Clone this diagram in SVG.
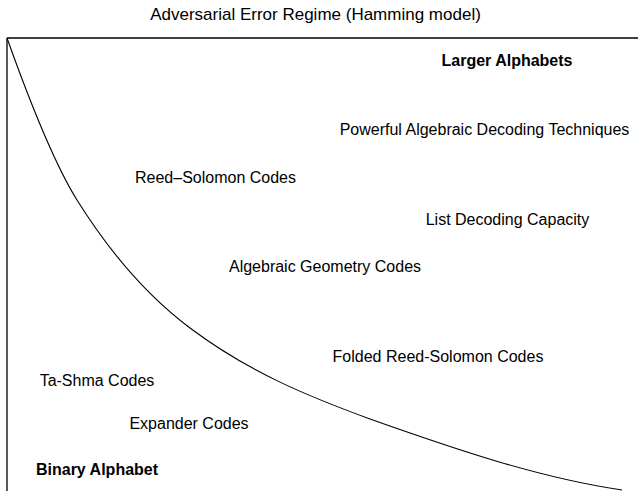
<svg xmlns="http://www.w3.org/2000/svg" width="638" height="491" viewBox="0 0 638 491">
<style>
text{font-family:"Liberation Sans",Arial,sans-serif;font-size:16px;fill:#000;text-anchor:middle}
.b{font-weight:bold}
.t{font-size:17px}
.ax{stroke:#000;stroke-width:1.3;fill:none}
.cv{stroke:#000;stroke-width:1.1;fill:none}
</style>
<rect width="638" height="491" fill="#fff"/>
<g id="axes">
<line class="ax" x1="7" y1="38" x2="638" y2="38"/>
<line class="ax" x1="7" y1="38" x2="7" y2="491"/>
</g>
<g id="connectors">
<path class="cv" d="M7,38 C30.3,103.3 53.7,162.7 77,200 C114.7,260.3 152.3,299.7 190,328 C250,373 310,397 370,419 C454.7,449 539.3,478 622,490"/>
</g>
<g id="title"><text class="t" x="315.5" y="20">Adversarial Error Regime (Hamming model)</text></g>
<g id="larger"><text class="b" x="507" y="66">Larger Alphabets</text></g>
<g id="powerful"><text x="484.5" y="135">Powerful Algebraic Decoding Techniques</text></g>
<g id="rs"><text x="215.5" y="183">Reed–Solomon Codes</text></g>
<g id="ldc"><text x="507.5" y="225">List Decoding Capacity</text></g>
<g id="ag"><text x="325" y="272">Algebraic Geometry Codes</text></g>
<g id="frs"><text x="438" y="362">Folded Reed-Solomon Codes</text></g>
<g id="tashma"><text x="97" y="386">Ta-Shma Codes</text></g>
<g id="expander"><text x="189" y="429">Expander Codes</text></g>
<g id="binary"><text class="b" x="97" y="475">Binary Alphabet</text></g>
</svg>
